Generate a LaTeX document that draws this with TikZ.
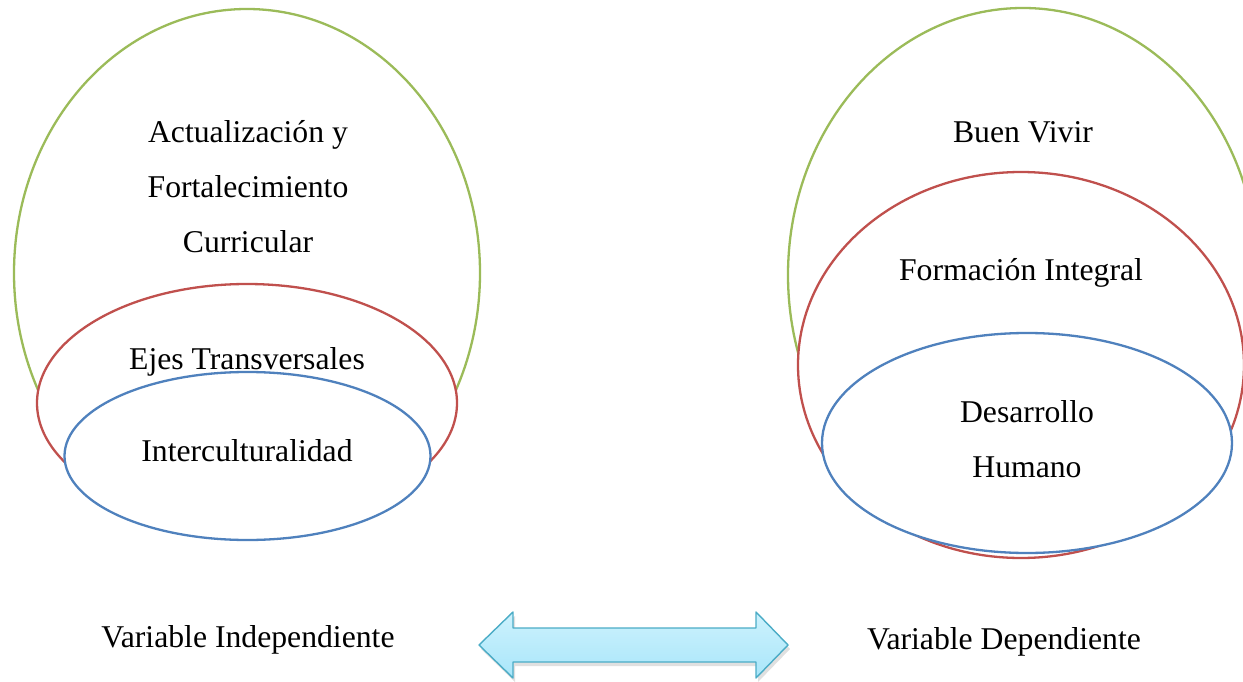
\documentclass[tikz,border=0pt]{standalone}
\usepackage{fontspec}
\setmainfont{Liberation Serif}
\usetikzlibrary{positioning}
\definecolor{verde}{HTML}{9BBB59}
\definecolor{rojo}{HTML}{C0504D}
\definecolor{azul}{HTML}{4F81BD}
\definecolor{flecha}{HTML}{4BACC6}
\definecolor{cielo}{HTML}{CDF2FD}
\definecolor{celeste}{HTML}{A9E6FA}
\tikzset{
 circulo/.style={line width=2.3pt, fill=white},
 texto/.style={align=center, inner sep=0pt},
}
\begin{document}
\begin{tikzpicture}[x=1pt, y=-1pt, font=\fontsize{31.7}{55}\selectfont, line join=round, line cap=round]
 \useasboundingbox (0,0) rectangle (1243,682);
 % variable independiente
 \draw[circulo, draw=verde] (247,273) ellipse [x radius=233, y radius=264];
 \draw[circulo, draw=rojo] (247,403) ellipse [x radius=210, y radius=119];
 \draw[circulo, draw=azul] (247.5,456) ellipse [x radius=183, y radius=84];
 % variable dependiente
 \draw[circulo, draw=verde] (1023,275) ellipse [x radius=235, y radius=267];
 \draw[circulo, draw=rojo] (1021,365) ellipse [x radius=223, y radius=193];
 \draw[circulo, draw=azul] (1027,443) ellipse [x radius=205, y radius=110];
 \path
 (248,187) node[texto] (actual) {Actualización y\\Fortalecimiento\\Curricular}
 (247,362) node[texto] (ejes) {Ejes Transversales}
 (247,451) node[texto] (inter) {Interculturalidad}
 (1023,132) node[texto] (buen) {Buen Vivir}
 (1021,273) node[texto] (formacion) {Formación Integral}
 (1027,439) node[texto] (desarrollo) {Desarrollo\\Humano}
 (248,640) node[texto] (varind) {Variable Independiente}
 (1004,642) node[texto] (vardep) {Variable Dependiente};
 % flecha doble
 \coordinate (izq) at (479,645);
 \coordinate (der) at (788,645);
 \fill[black!12] ([shift={(2,4)}]izq) -- ++(34,-33) -- ++(0,16) -- ++(243,0) -- ++(0,-16) -- ++(32,33)
  -- ++(-32,33) -- ++(0,-16) -- ++(-243,0) -- ++(0,16) -- cycle;
 \draw[draw=flecha, line width=1.4pt, top color=cielo, bottom color=celeste] (izq) -- ++(34,-33) -- ++(0,16) -- ++(243,0) -- ++(0,-16) -- (der)
  -- ++(-32,33) -- ++(0,-16) -- ++(-243,0) -- ++(0,16) -- cycle;
\end{tikzpicture}
\end{document}
